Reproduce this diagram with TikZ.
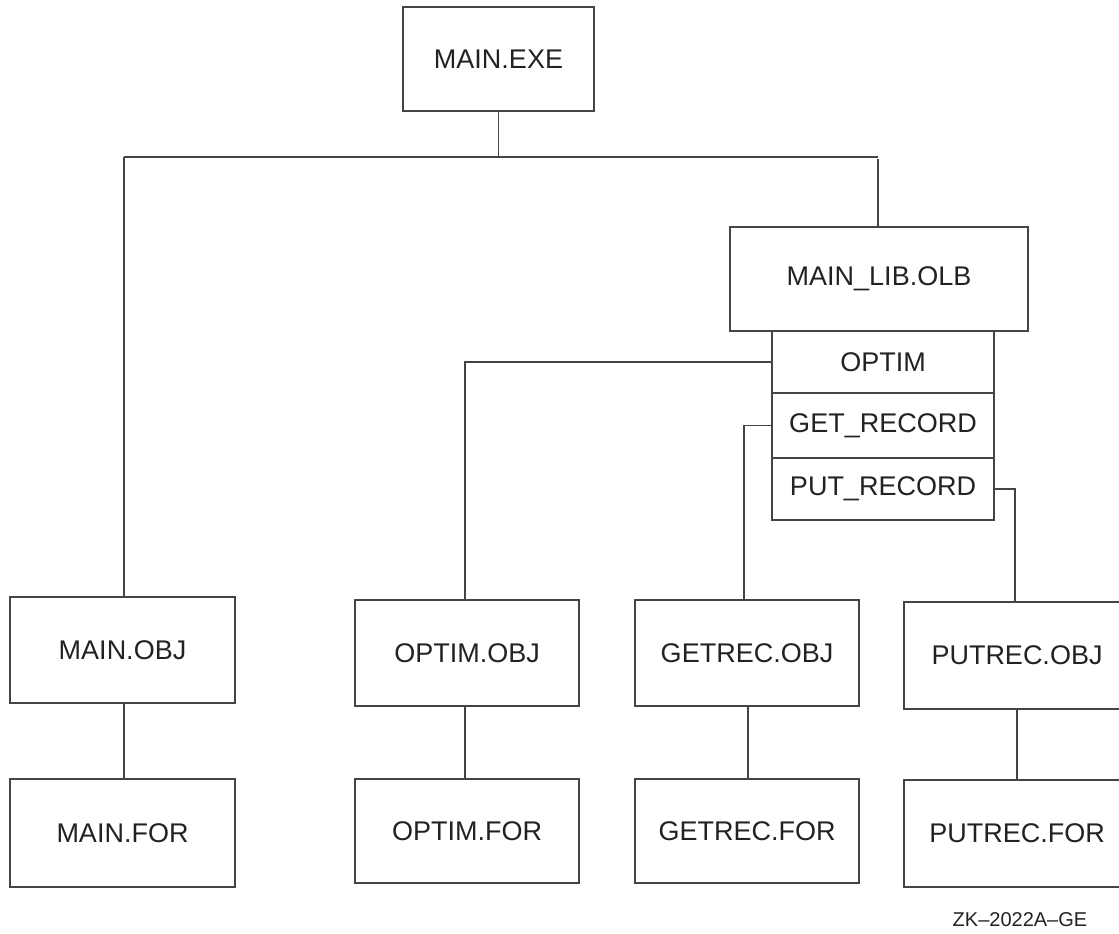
\documentclass[tikz,border=0pt]{standalone}
\usepackage{fontspec}
\setmainfont{Liberation Sans}
\definecolor{ln}{HTML}{444444}
\definecolor{tx}{HTML}{222222}
\begin{document}
\begin{tikzpicture}[x=1pt,y=-1pt,
  box/.style={draw=ln, line width=1.5pt, inner sep=0pt, text=tx,
    font=\fontsize{27}{32}\selectfont, anchor=center},
  conn/.style={draw=ln, line width=1.5pt}]
\useasboundingbox (0,0) rectangle (1119,934);
\clip (0,0) rectangle (1119,934);
% top
\node[box, minimum width=191pt, minimum height=104pt] (exe) at (498.5,59) {MAIN.EXE};
\node[box, minimum width=298pt, minimum height=104pt] (lib) at (879,279) {MAIN\_LIB.OLB};
\node[box, minimum width=222pt, minimum height=62pt] (optim) at (883,362) {OPTIM};
\node[box, minimum width=222pt, minimum height=65pt] (get) at (883,425.5) {GET\_RECORD};
\node[box, minimum width=222pt, minimum height=62pt] (put) at (883,489) {PUT\_RECORD};
% bottom rows
\node[box, minimum width=225pt, minimum height=106pt] (mainobj) at (122.5,650) {MAIN.OBJ};
\node[box, minimum width=225pt, minimum height=108pt] (mainfor) at (122.5,833) {MAIN.FOR};
\node[box, minimum width=224pt, minimum height=106pt] (optimobj) at (467,653) {OPTIM.OBJ};
\node[box, minimum width=224pt, minimum height=104pt] (optimfor) at (467,831) {OPTIM.FOR};
\node[box, minimum width=224pt, minimum height=106pt] (getobj) at (747,653) {GETREC.OBJ};
\node[box, minimum width=224pt, minimum height=104pt] (getfor) at (747,831) {GETREC.FOR};
\node[box, minimum width=226pt, minimum height=107pt] (putobj) at (1017,655.5) {PUTREC.OBJ};
\node[box, minimum width=226pt, minimum height=107pt] (putfor) at (1017,833.5) {PUTREC.FOR};
% connectors
\coordinate (hl) at (124,157);
\coordinate (hr) at (878,157);
\coordinate (xo) at (465,0);
\coordinate (xg) at (744,0);
\coordinate (xp) at (1015,0);
\path[conn] (hl) -- (hr);
\path[conn] (exe.south) -- (exe.south |- hl);
\path[conn] (hl) -- (hl |- mainobj.north);
\path[conn] ([yshift=-2pt]hr) -- (hr |- lib.north);
\path[conn] (optim.west) -- (optim.west -| xo) -- (xo |- optimobj.north);
\path[conn] (get.west) -- (get.west -| xg) -- (xg |- getobj.north);
\path[conn] (put.east) -- (put.east -| xp) -- (xp |- putobj.north);
\path[conn] (hl |- mainobj.south) -- (hl |- mainfor.north);
\path[conn] (optimobj.south -| xo) -- (optimfor.north -| xo);
\path[conn] ([xshift=1pt]getobj.south) -- ([xshift=1pt]getfor.north);
\path[conn] (putobj.south) -- (putfor.north);
% figure id
\node[text=tx, font=\fontsize{20}{24}\selectfont] (id) at (1020,920) {ZK–2022A–GE};
\end{tikzpicture}
\end{document}
